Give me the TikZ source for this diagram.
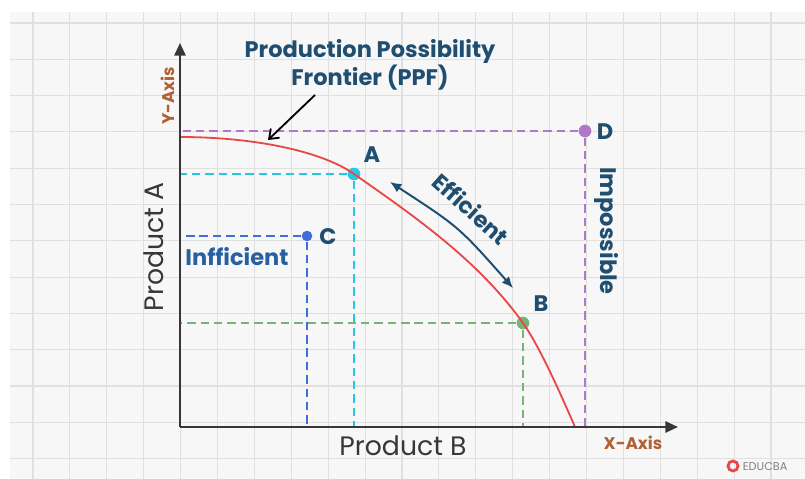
\documentclass[tikz,border=0pt]{standalone}
\usepackage{fontspec}
\setmainfont{Poppins}
\definecolor{TitleBlue}{RGB}{31, 78, 112}
\definecolor{LabelBlue}{RGB}{40, 95, 160}
\definecolor{AxisBrown}{RGB}{176, 98, 52}
\definecolor{AxisGray}{RGB}{55, 55, 55}
\definecolor{CurveRed}{RGB}{232, 72, 72}
\definecolor{DPurple}{RGB}{176, 120, 200}
\definecolor{ACyan}{RGB}{38, 200, 225}
\definecolor{CBlue}{RGB}{60, 110, 220}
\definecolor{BGreen}{RGB}{120, 180, 120}
\definecolor{GridGray}{RGB}{224, 224, 224}
\definecolor{PaperGray}{RGB}{247, 247, 247}
\usetikzlibrary{arrows.meta, positioning, calc}

\begin{document}
\begin{tikzpicture}[x=0.025cm, y=-0.025cm, every node/.style={font=\bfseries\fontsize{16}{19}\selectfont, text=TitleBlue},
  dot/.style={circle, inner sep=0pt, minimum size=9pt},
  guide/.style={line width=1.5pt, dash pattern=on 6pt off 3.5pt}]
            \useasboundingbox (0,0) rectangle (805,479);
            \fill[white] (0,0) rectangle (805,479);
            \fill[PaperGray] (10,12) rectangle (805,479);
            \foreach \gx in {0,...,20}
                \draw[GridGray, line width=0.8pt] ({33+36.9*\gx},12) -- ({33+36.9*\gx},479);
            \foreach \gy in {0,...,12}
                \draw[GridGray, line width=0.8pt] (10,{23+36.3*\gy}) -- (805,{23+36.3*\gy});

            % axes
            \coordinate (O) at (180,427);
            \coordinate (ytip) at (180,43);
            \coordinate (xtip) at (678,427);

            % points
            \node[dot, fill=ACyan] (A) at (354,174) {};
            \node[dot, fill=BGreen] (B) at (523,323) {};
            \node[dot, fill=CBlue, minimum size=7.5pt] (C) at (307,236) {};
            \node[dot, fill=DPurple] (D) at (585,131) {};

            \draw[guide, DPurple] (D) -- (D -| O);
            \draw[guide, DPurple] (D) -- (D |- O);
            \draw[guide, ACyan] (A) -- (A -| O);
            \draw[guide, ACyan] (A) -- (A |- O);
            \draw[guide, CBlue] (C) -- (C -| O);
            \draw[guide, CBlue] (C) -- (C |- O);
            \draw[guide, BGreen] (B) -- (B -| O);
            \draw[guide, BGreen] (B) -- (B |- O);

            % frontier
            \coordinate (top) at (180,137);
            \coordinate (end) at (575,427);
            \draw[CurveRed, line width=1.3pt] (top) .. controls (250,137) and (320,150) .. (A.center)
                .. controls (414,216) and (478,260) .. (B.center)
                .. controls (540,347) and (562,397) .. (end);

            \draw[AxisGray, line width=1.5pt, -{Triangle[length=9pt, width=8pt]}] (O) -- (ytip);
            \draw[AxisGray, line width=1.5pt, -{Triangle[length=9pt, width=8pt]}] (O) -- (xtip);

            \node (Alab) at (372,155) {A};
            \node (Blab) at (541,304) {B};
            \node (Clab) at (328,237) {C};
            \node (Dlab) at (605,132) {D};

            \node (title) at (370,65) [align=center, font=\bfseries\fontsize{16}{18.5}\selectfont] {Production Possibility\\Frontier (PPF)};
            \coordinate (ptr) at (315,95);
            \coordinate (ppf) at (268,140);
            \draw[black, line width=1.3pt, -{Straight Barb[length=6pt, width=9pt]}] (ptr) -- (ppf);

            \coordinate (e1) at (390,182);
            \coordinate (e2) at (513,288);
            \draw[TitleBlue, line width=1.4pt, {Latex[length=8pt, width=7pt]}-{Latex[length=8pt, width=7pt]}] (e1) .. controls (459,227) .. (e2);
            \node[rotate=-42, inner sep=1pt] (eff) at (471,209) {Efficient};
            \node[text=LabelBlue] (ineff) at (237,257) {Infficient};
            \node[rotate=-90] (imp) at (607,231) {Impossible};

            \node[rotate=90, font=\fontsize{19}{22}\selectfont, text=AxisGray] (prodA) at (154,247) {Product A};
            \node[font=\fontsize{19}{22}\selectfont, text=AxisGray] (prodB) at (403,446) {Product B};
            \node[rotate=90, font=\bfseries\fontsize{12}{14}\selectfont, text=AxisBrown] (ylab) at (168,96) {Y-Axis};
            \node[font=\bfseries\fontsize{12}{14}\selectfont, text=AxisBrown] (xlab) at (633,443) {X-Axis};

            \draw[CurveRed, line width=2pt] (733,466) circle (5);
            \node[anchor=west, font=\fontsize{8}{10}\selectfont, text=gray] (logo) at (738,467) {EDUCBA};
        \end{tikzpicture}
\end{document}
